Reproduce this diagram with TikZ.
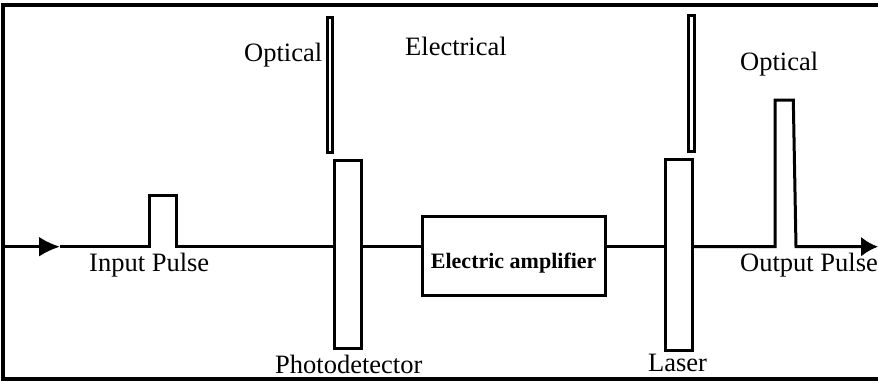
\documentclass[tikz,border=0pt]{standalone}
\usepackage{fontspec}
\setmainfont{Liberation Serif}
\usetikzlibrary{arrows.meta}
\begin{document}
\begin{tikzpicture}[x=1pt,y=-1pt, line join=miter,
  box/.style={draw, line width=3pt, inner sep=0pt, fill=white},
  wire/.style={line width=3pt},
  lbl/.style={inner sep=0pt, anchor=base west, font=\fontsize{26.5}{30}\selectfont}]
\useasboundingbox (0,0) rectangle (878,381);
% frame (no right side)
\draw[line width=3.2pt] (878,5) -- (3,5) -- (3,379) -- (878,379);
% blocks
\node[box, minimum width=26.7pt, minimum height=188.3pt] (pd) at (347.7,254.2) {};
\node[box, minimum width=5.4pt, minimum height=135pt] (pdopt) at (330,85.2) {};
\node[box, minimum width=182.7pt, minimum height=79.3pt] (amp) at (513.7,256.3) {};
\node[inner sep=0pt, anchor=base, font=\fontsize{22}{24}\selectfont\bfseries] (ampl) at (513.7,268) {Electric amplifier};
\node[box, minimum width=27.3pt, minimum height=191pt] (laser) at (678.7,254.5) {};
\node[box, minimum width=6pt, minimum height=136pt] (lopt) at (691.3,83) {};
% signal line
\coordinate (in) at (3,246.7);
\coordinate (tip) at (60,246.7);
\coordinate (out) at (878,246.7);
\draw[wire, -{Latex[length=21pt,width=20pt]}] (in) -- (tip);
\draw[wire] (tip) -- (149,246.7) -- (149,195.7) -- (176.7,195.7) -- (176.7,246.7) -- (pd.west |- tip);
\draw[wire] (pd.east |- tip) -- (amp.west |- tip);
\draw[wire] (amp.east |- tip) -- (laser.west |- tip);
\draw[wire, -{Latex[length=17pt,width=20pt]}] (laser.east |- tip) -- (775,246.7) -- (775,100) -- (793.3,100) -- (796,246.7) -- (out);
% labels
\node[lbl] (t1) at (244,61) {Optical};
\node[lbl] (t2) at (405,55.5) {Electrical};
\node[lbl] (t3) at (740,70) {Optical};
\node[lbl] (t4) at (89,271.7) {Input Pulse};
\node[lbl] (t5) at (740,271.7) {Output Pulse};
\node[lbl] (t6) at (275,373) {Photodetector};
\node[lbl] (t7) at (648,371.7) {Laser};
\end{tikzpicture}
\end{document}
